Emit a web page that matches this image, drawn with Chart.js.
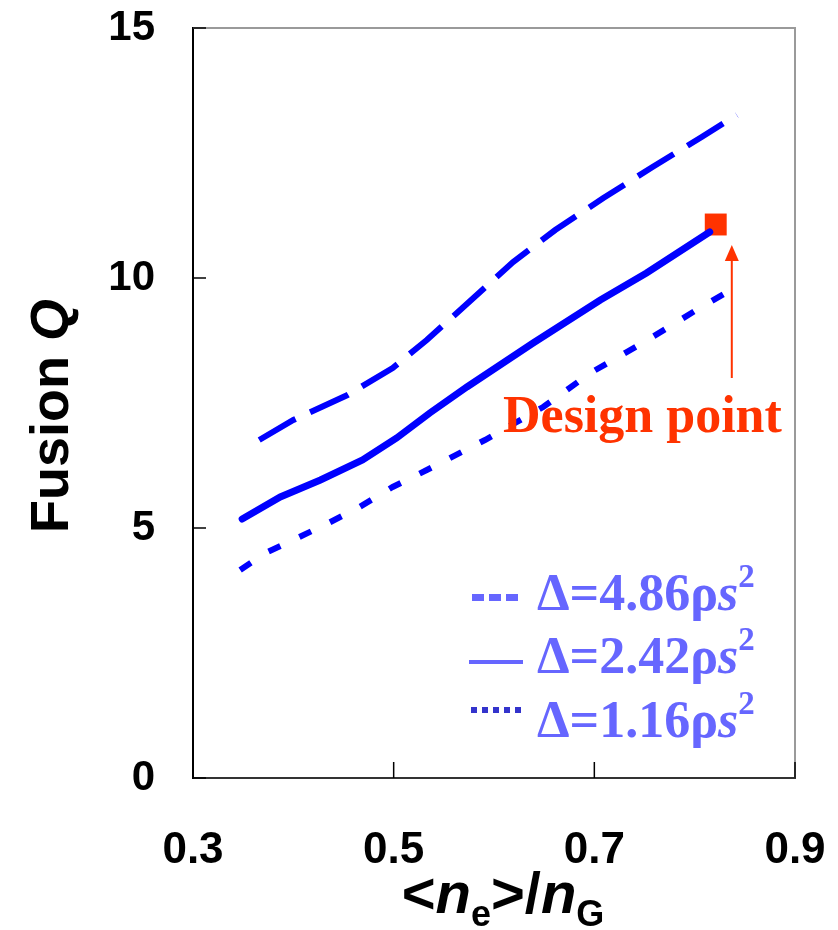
<!DOCTYPE html>
<html>
<head>
<meta charset="utf-8">
<script src="https://cdn.jsdelivr.net/npm/chart.js@4.4.1/dist/chart.umd.min.js"></script>
<style>
  html, body { margin: 0; padding: 0; background: #fff; }
  #wrap { width: 838px; height: 930px; position: relative; }
</style>
</head>
<body>
<div id="wrap"><canvas id="chart"></canvas></div>
<script>
// values
const xTicks = [0.3, 0.5, 0.7, 0.9];
const yTicks = [0, 5, 10, 15];

// Delta = 4.86 rho s^2 (dashed)
const dashedX = [0.366, 0.400, 0.454, 0.499, 0.533, 0.574, 0.619, 0.661, 0.709, 0.758, 0.807, 0.842];
const dashedY = [6.76, 7.16, 7.66, 8.20, 8.76, 9.50, 10.32, 10.96, 11.60, 12.22, 12.82, 13.26];

// Delta = 2.42 rho s^2 (solid)
const solidX = [0.349, 0.387, 0.427, 0.469, 0.503, 0.536, 0.573, 0.639, 0.706, 0.752, 0.815];
const solidY = [5.18, 5.62, 5.96, 6.36, 6.80, 7.30, 7.82, 8.70, 9.56, 10.10, 10.92];

// Delta = 1.16 rho s^2 (dotted)
const dottedX = [0.347, 0.372, 0.404, 0.435, 0.466, 0.499, 0.533, 0.591, 0.649, 0.696, 0.753, 0.805, 0.841];
const dottedY = [4.16, 4.50, 4.80, 5.10, 5.42, 5.82, 6.16, 6.76, 7.42, 8.10, 8.76, 9.40, 9.82];

// design point and its arrow
const designX = [0.821];
const designY = [11.07];
const arrowX = 0.837;
const arrowFromY = 8.0;
const arrowToY = 10.66;

const legendLabels = ["4.86", "2.42", "1.16"];

var blue = "#0000ff";
var red = "#ff3300";
var legendBlue = "#6666ff";

function pts(xs, ys) {
    return xs.map(function (x, i) { return { x: x, y: ys[i] }; });
}

function drawRich(ctx, x, y, parts) {
    var cx = x;
    parts.forEach(function (p) {
        ctx.font = p.font;
        ctx.fillText(p.t, cx, y + (p.dy || 0));
        cx += ctx.measureText(p.t).width;
    });
    return cx;
}

function richWidth(ctx, parts) {
    var w = 0;
    parts.forEach(function (p) {
        ctx.font = p.font;
        w += ctx.measureText(p.t).width;
    });
    return w;
}

const extras = {
    id: "extras",
    afterDraw: function (chart) {
        const ctx = chart.ctx;
        const a = chart.chartArea;
        const xs = chart.scales.x;
        const ys = chart.scales.y;
        ctx.save();

        // frame top / right
        ctx.strokeStyle = "#9a9a9a";
        ctx.lineWidth = 2;
        ctx.beginPath();
        ctx.moveTo(a.left, a.top);
        ctx.lineTo(a.right, a.top);
        ctx.lineTo(a.right, a.bottom);
        ctx.stroke();

        // inward ticks
        ctx.strokeStyle = "#000";
        ctx.lineWidth = 1.5;
        yTicks.forEach(function (v) {
            var py = ys.getPixelForValue(v);
            ctx.beginPath();
            ctx.moveTo(a.left, py);
            ctx.lineTo(a.left + 13, py);
            ctx.stroke();
        });
        xTicks.forEach(function (v) {
            var px = xs.getPixelForValue(v);
            ctx.beginPath();
            ctx.moveTo(px, a.bottom);
            ctx.lineTo(px, a.bottom - 16);
            ctx.stroke();
        });

        // x axis title  <ne>/nG
        ctx.fillStyle = "#000";
        ctx.textBaseline = "alphabetic";
        ctx.textAlign = "left";
        var sans = "'Liberation Sans', Arial, sans-serif";
        var xt = [
            { t: "<", font: "bold 58px " + sans },
            { t: "n", font: "italic bold 58px " + sans },
            { t: "e", font: "bold 36px " + sans, dy: 13 },
            { t: ">/", font: "bold 58px " + sans },
            { t: "n", font: "italic bold 58px " + sans },
            { t: "G", font: "bold 36px " + sans, dy: 13 }
        ];
        var xw = richWidth(ctx, xt);
        drawRich(ctx, 503 - xw / 2, 913, xt);

        // y axis title  Fusion Q
        var yt = [
            { t: "Fusion ", font: "bold 54px " + sans },
            { t: "Q", font: "italic bold 54px " + sans }
        ];
        var yw = richWidth(ctx, yt);
        ctx.save();
        ctx.translate(68, 416);
        ctx.rotate(-Math.PI / 2);
        drawRich(ctx, -yw / 2, 0, yt);
        ctx.restore();

        // legend
        var serif = "'Liberation Serif', 'Times New Roman', serif";
        var rows = [610, 673, 737];
        ctx.fillStyle = legendBlue;
        legendLabels.forEach(function (lab, i) {
            drawRich(ctx, 537, rows[i], [
                { t: "\u0394=" + lab + "\u03c1", font: "bold 52px " + serif },
                { t: "s", font: "italic bold 52px " + serif },
                { t: "2", font: "bold 33px " + serif, dy: -23 }
            ]);
        });
        // legend samples
        ctx.fillStyle = legendBlue;
        for (var k = 0; k < 3; k++) {
            ctx.fillRect(472 + k * 17, 594, 12, 7);
        }
        ctx.fillRect(469, 660, 54, 4);
        ctx.fillStyle = "#3333cc";
        for (var k2 = 0; k2 < 5; k2++) {
            ctx.fillRect(471 + k2 * 11, 707, 6, 6);
        }

        // design point arrow + text
        var ax = xs.getPixelForValue(arrowX);
        var ay0 = ys.getPixelForValue(arrowFromY);
        var ay1 = ys.getPixelForValue(arrowToY);
        ctx.strokeStyle = red;
        ctx.fillStyle = red;
        ctx.lineWidth = 2;
        ctx.beginPath();
        ctx.moveTo(ax, ay0);
        ctx.lineTo(ax, ay1 + 14);
        ctx.stroke();
        ctx.beginPath();
        ctx.moveTo(ax, ay1);
        ctx.lineTo(ax - 7, ay1 + 16);
        ctx.lineTo(ax + 7, ay1 + 16);
        ctx.closePath();
        ctx.fill();
        ctx.font = "bold 52px " + serif;
        ctx.fillText("Design point", 503, 432);

        ctx.restore();
    }
};

const data = {
    datasets: [
        {
            label: "dashed",
            data: pts(dashedX, dashedY),
            showLine: true,
            borderColor: blue,
            borderWidth: 6,
            borderDash: [42, 16],
            pointRadius: 0
        },
        {
            label: "solid",
            data: pts(solidX, solidY),
            showLine: true,
            borderColor: blue,
            borderWidth: 7,
            borderCapStyle: "round",
            pointRadius: 0
        },
        {
            label: "dotted",
            data: pts(dottedX, dottedY),
            showLine: true,
            borderColor: blue,
            borderWidth: 6,
            borderDash: [13, 21],
            pointRadius: 0
        },
        {
            label: "design",
            data: pts(designX, designY),
            showLine: false,
            pointStyle: "rect",
            pointRadius: 15.5,
            backgroundColor: red,
            borderColor: red,
            borderWidth: 0
        }
    ]
};

const options = {
    animation: false,
    responsive: true,
    maintainAspectRatio: false,
    layout: {
        padding: { top: 28, right: 43, left: 0, bottom: 0 }
    },
    plugins: {
        legend: { display: false },
        tooltip: { enabled: false }
    },
    scales: {
        x: {
            type: "linear",
            min: 0.3,
            max: 0.9,
            afterBuildTicks: function (s) { s.ticks = xTicks.map(function (v) { return { value: v }; }); },
            afterFit: function (s) { s.height = 152; s.paddingLeft = 0; s.paddingRight = 0; },
            grid: { display: false, drawTicks: false },
            border: { display: true, color: "#333", width: 2 },
            ticks: {
                padding: 46,
                color: "#000",
                maxRotation: 0,
                font: { family: "'Liberation Sans', Arial, sans-serif", weight: "bold", size: 44 },
                callback: function (v) { return v.toFixed(1); }
            }
        },
        y: {
            type: "linear",
            min: 0,
            max: 15,
            afterBuildTicks: function (s) { s.ticks = yTicks.map(function (v) { return { value: v }; }); },
            afterFit: function (s) { s.width = 193; s.paddingTop = 0; s.paddingBottom = 0; },
            grid: { display: false, drawTicks: false },
            border: { display: true, color: "#000", width: 2 },
            ticks: {
                padding: 38,
                color: "#000",
                font: { family: "'Liberation Sans', Arial, sans-serif", weight: "bold", size: 42 },
                callback: function (v) { return String(v); }
            }
        }
    }
};

const chart = new Chart(document.getElementById("chart"), {
    type: "scatter",
    data: data,
    options: options,
    plugins: [extras]
});
</script>
</body>
</html>
